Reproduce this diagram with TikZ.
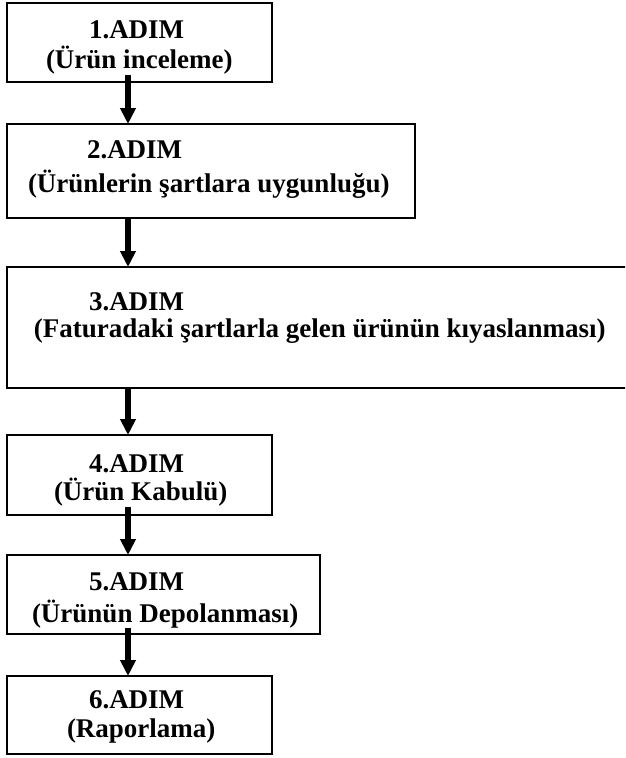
\documentclass[tikz,border=0pt]{standalone}
\usepackage{fontspec}
\setmainfont{Liberation Serif}
\usetikzlibrary{arrows.meta}

\tikzset{
  stepbox/.style={draw=black, line width=1.8pt, rectangle, inner sep=0pt, outer sep=0pt, fill=white},
  steptext/.style={inner sep=0pt, outer sep=0pt, anchor=base west,
    font=\fontsize{27}{32}\selectfont\bfseries},
  flow/.style={line width=5.5pt, -{Triangle[width=15pt,length=16pt]}},
}

\begin{document}
\begin{tikzpicture}[x=1pt, y=-1pt]
  \useasboundingbox (0,0) rectangle (625,758);
  \clip (0,0) rectangle (625,758);
  \fill[white] (0,0) rectangle (625,758);

  % arrow column
  \coordinate (ax) at (128,0);

  % step boxes
  \node[stepbox, minimum width=265pt, minimum height=79pt]  (b1) at (139.5,42.5) {};
  \node[stepbox, minimum width=408pt, minimum height=94pt]  (b2) at (211,171) {};
  \node[stepbox, minimum width=633pt, minimum height=121pt] (b3) at (323.5,327.5) {};
  \node[stepbox, minimum width=265pt, minimum height=80pt]  (b4) at (139.5,475) {};
  \node[stepbox, minimum width=313pt, minimum height=79pt]  (b5) at (163.5,594.5) {};
  \node[stepbox, minimum width=265pt, minimum height=78pt]  (b6) at (139.5,715) {};

  % step titles
  \node[steptext] (t1a) at (89,38)  {1.ADIM};
  \node[steptext] (t1b) at (46,68)  {(Ürün inceleme)};
  \node[steptext] (t2a) at (87,158) {2.ADIM};
  \node[steptext] (t2b) at (28,192) {(Ürünlerin şartlara uygunluğu)};
  \node[steptext] (t3a) at (89,310) {3.ADIM};
  \node[steptext] (t3b) at (34,337) {(Faturadaki şartlarla gelen ürünün kıyaslanması)};
  \node[steptext] (t4a) at (89,472) {4.ADIM};
  \node[steptext] (t4b) at (54,500) {(Ürün Kabulü)};
  \node[steptext] (t5a) at (89,590) {5.ADIM};
  \node[steptext] (t5b) at (32,622) {(Ürünün Depolanması)};
  \node[steptext] (t6a) at (89,708) {6.ADIM};
  \node[steptext] (t6b) at (67,737) {(Raporlama)};

  % connectors
  \draw[flow] ([yshift=7pt]b1.south -| ax) -- (b2.north -| ax);
  \draw[flow] (b2.south -| ax) -- (b3.north -| ax);
  \draw[flow] (b3.south -| ax) -- (b4.north -| ax);
  \draw[flow] ([yshift=8pt]b4.south -| ax) -- (b5.north -| ax);
  \draw[flow] ([yshift=6pt]b5.south -| ax) -- (b6.north -| ax);
\end{tikzpicture}
\end{document}
